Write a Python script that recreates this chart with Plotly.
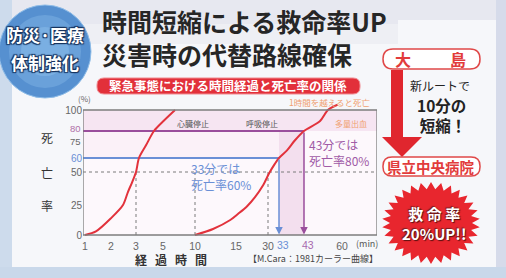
import numpy as np
import plotly.graph_objects as go

# ---------------- data ----------------
# Cara curve (1981) as drawn in the figure
CARDIAC_MIN = [1, 1.42, 2, 2.48, 2.68, 2.84, 3, 3.22, 3.74, 4.33, 5.16, 6.88]
CARDIAC_PCT = [0, 3, 14, 25, 35, 42, 50, 60, 70, 80, 90, 100]

BLEED_MIN = [10, 12.2, 14.3, 15.9, 20.2, 23.9, 27.7, 30.3, 31.9, 33, 36.2, 39.4, 43, 50.2, 53.7, 58]
BLEED_PCT = [0, 5, 12.5, 17.5, 24, 31, 40, 49, 56, 60, 66, 74, 80, 89.5, 100, 105]

X_TICKS = [1, 2, 3, 5, 10, 15, 30, 33, 43, 60]
X_TICK_TEXT = ["1", "2", "3", "5", "10", "15", "30", "33", "43", "60"]
Y_TICKS = [0, 25, 50, 60, 75, 80, 100]
Y_TICK_TEXT = ["0", "25", "50", "60", "75", "80", "100"]

REF_A = (33, 60)   # 33分では死亡率60%
REF_B = (43, 80)   # 43分では死亡率80%
DOTTED_MIN = [3, 10, 30]
DOTTED_PCT = 50

# axis scales of the drawing (non-uniform, as printed)
X_SCALE_MIN = [1, 2, 3, 5, 10, 15, 30, 33, 43, 60]
X_SCALE_U = [0, 26, 51, 78, 110, 151, 183, 194, 219, 257]
Y_SCALE_PCT = [0, 25, 50, 60, 75, 80, 100, 120]
Y_SCALE_V = [0, 30, 63, 77, 96, 104, 125, 146]


def U(m):
    return np.interp(m, X_SCALE_MIN, X_SCALE_U)


def V(p):
    return np.interp(p, Y_SCALE_PCT, Y_SCALE_V)


# ---------------- geometry helpers ----------------
W, H = 506, 278
L, R, T, B = 83, 377, 93, 238


def PX(px):
    return (px - L) / (R - L)


def PY(py):
    return (B - py) / (B - T)


def rrect(x0, y0, x1, y1, r):
    return (f"M {PX(x0+r)},{PY(y0)} L {PX(x1-r)},{PY(y0)} Q {PX(x1)},{PY(y0)} {PX(x1)},{PY(y0+r)} "
            f"L {PX(x1)},{PY(y1-r)} Q {PX(x1)},{PY(y1)} {PX(x1-r)},{PY(y1)} "
            f"L {PX(x0+r)},{PY(y1)} Q {PX(x0)},{PY(y1)} {PX(x0)},{PY(y1-r)} "
            f"L {PX(x0)},{PY(y0+r)} Q {PX(x0)},{PY(y0)} {PX(x0+r)},{PY(y0)} Z")


def poly(pts):
    return "M " + " L ".join(f"{PX(x)},{PY(y)}" for x, y in pts) + " Z"


def star(cx, cy, rxo, ryo, rxi, ryi, n):
    pts = []
    for k in range(2 * n):
        a = np.pi * k / n - np.pi / 2
        if k % 2 == 0:
            pts.append((cx + rxo * np.cos(a), cy + ryo * np.sin(a)))
        else:
            pts.append((cx + rxi * np.cos(a), cy + ryi * np.sin(a)))
    return poly(pts)


JP = "Noto Sans CJK JP"
RED = "#e2323c"
PURPLE = "#9a4e9c"
BLUE = "#6a8fd6"
GRAY = "#666666"

fig = go.Figure()

fig.add_trace(go.Scatter(x=U(CARDIAC_MIN), y=V(CARDIAC_PCT), mode="lines",
                         line=dict(color=RED, width=2, shape="spline", smoothing=0.8),
                         hoverinfo="skip", showlegend=False))
fig.add_trace(go.Scatter(x=U(BLEED_MIN), y=V(BLEED_PCT), mode="lines",
                         line=dict(color=RED, width=2, shape="spline", smoothing=0.8),
                         hoverinfo="skip", showlegend=False))

shapes = []
shapes += [
    dict(type="rect", xref="paper", yref="paper", x0=PX(0), x1=PX(W), y0=PY(0), y1=PY(H),
         fillcolor="#f6f7fa", line_width=0, layer="below"),
    dict(type="rect", xref="paper", yref="paper", x0=PX(0), x1=PX(398), y0=PY(0), y1=PY(24),
         fillcolor="#e7e8f0", line_width=0, layer="below"),
    dict(type="rect", xref="paper", yref="paper", x0=PX(0), x1=PX(398), y0=PY(24), y1=PY(44),
         fillcolor="#eeeff4", line_width=0, layer="below"),
    dict(type="rect", xref="paper", yref="paper", x0=PX(398), x1=PX(W), y0=PY(0), y1=PY(20),
         fillcolor="#e7e8f0", line_width=0, layer="below"),
    dict(type="rect", xref="paper", yref="paper", x0=PX(0), x1=PX(12), y0=PY(0), y1=PY(H),
         fillcolor="#cddbec", line_width=0, layer="below"),
    dict(type="rect", xref="paper", yref="paper", x0=PX(496), x1=PX(W), y0=PY(0), y1=PY(H),
         fillcolor="#d6dbea", line_width=0, layer="below"),
    dict(type="rect", xref="paper", yref="paper", x0=PX(0), x1=PX(W), y0=PY(267), y1=PY(H),
         fillcolor="#c9d8ea", line_width=0, layer="below"),
    dict(type="rect", xref="x", yref="y", x0=-2, x1=292, y0=0, y1=V(100),
         fillcolor="#fdf8fc", line_width=0, layer="below"),
    dict(type="rect", xref="x", yref="y", x0=-2, x1=292, y0=V(80), y1=V(100),
         fillcolor="#f6e5f2", line_width=0, layer="below"),
    dict(type="rect", xref="x", yref="y", x0=-2, x1=U(REF_B[0]), y0=V(60), y1=V(80),
         fillcolor="#fbf1f8", line_width=0, layer="below"),
    dict(type="rect", xref="x", yref="y", x0=U(REF_A[0]), x1=U(REF_B[0]), y0=0, y1=V(80),
         fillcolor="#f3dfee", line_width=0, layer="below"),
]
shapes.append(dict(type="line", xref="x", yref="y", x0=-2, x1=292, y0=V(DOTTED_PCT), y1=V(DOTTED_PCT),
                   line=dict(color="#7a7a7a", width=1, dash="dot"), layer="below"))
for m in DOTTED_MIN:
    shapes.append(dict(type="line", xref="x", yref="y", x0=U(m), x1=U(m), y0=0, y1=V(DOTTED_PCT),
                       line=dict(color="#7a7a7a", width=1, dash="dot"), layer="below"))
shapes.append(dict(type="line", xref="x", yref="y", x0=-2, x1=U(REF_B[0]), y0=V(REF_B[1]), y1=V(REF_B[1]),
                   line=dict(color=PURPLE, width=2), layer="below"))
shapes.append(dict(type="line", xref="x", yref="y", x0=-2, x1=U(REF_A[0]), y0=V(REF_A[1]), y1=V(REF_A[1]),
                   line=dict(color=BLUE, width=2), layer="below"))
shapes.append(dict(type="rect", xref="x", yref="y", x0=-2, x1=292, y0=0, y1=V(100),
                   line=dict(color="#7d7d7d", width=1.3), fillcolor="rgba(0,0,0,0)", layer="above"))

shapes += [
    dict(type="circle", xref="paper", yref="paper", x0=PX(-1), x1=PX(91), y0=PY(98), y1=PY(5),
         fillcolor="#5690d0", line=dict(color="#8fbde8", width=1), layer="above"),
    dict(type="circle", xref="paper", yref="paper", x0=PX(9), x1=PX(81), y0=PY(88), y1=PY(15),
         fillcolor="#6aa1da", line_width=0, layer="above"),
    dict(type="circle", xref="paper", yref="paper", x0=PX(21), x1=PX(69), y0=PY(76), y1=PY(27),
         fillcolor="#7aafe2", line_width=0, layer="above"),
]
shapes.append(dict(type="path", xref="paper", yref="paper", path=rrect(97, 78, 360, 94, 7),
                   fillcolor="#e2303a", line=dict(color="#f08a90", width=1), layer="above"))
shapes.append(dict(type="path", xref="paper", yref="paper", path=rrect(383, 49, 480, 69, 10),
                   fillcolor="#ffffff", line=dict(color="#e04848", width=1.5), layer="above"))
shapes.append(dict(type="path", xref="paper", yref="paper",
                   path=poly([(391, 70), (403, 70), (403, 137), (422, 137), (402, 157),
                              (382, 137), (391, 137)]),
                   fillcolor="#e0262e", line_width=0, layer="above"))
shapes.append(dict(type="path", xref="paper", yref="paper", path=rrect(383, 157, 480, 176, 9),
                   fillcolor="#ffffff", line=dict(color="#e04848", width=1.5), layer="above"))
shapes.append(dict(type="path", xref="paper", yref="paper",
                   path=star(431, 223, 49, 41, 41, 34, 30),
                   fillcolor="#e8262e", line_width=0, layer="above"))

annotations = []


def txt(px, py, s, size, color, bold=False, xanchor="center", shadow=None, family=JP, align="center"):
    f = dict(family=family, size=size, color=color)
    if bold:
        f["weight"] = "bold"
    if shadow:
        f["shadow"] = shadow
    annotations.append(dict(x=PX(px), y=PY(py), xref="paper", yref="paper", text=s,
                            showarrow=False, xanchor=xanchor, yanchor="middle", font=f,
                            align=align, borderpad=0))


annotations.append(dict(x=U(REF_B[0]), y=0.5, ax=U(REF_B[0]), ay=V(REF_B[1]), xref="x", yref="y",
                        axref="x", ayref="y", showarrow=True, arrowhead=2, arrowsize=1,
                        arrowwidth=1.5, arrowcolor=PURPLE, text=""))
annotations.append(dict(x=U(REF_A[0]), y=0.5, ax=U(REF_A[0]), ay=V(REF_A[1]), xref="x", yref="y",
                        axref="x", ayref="y", showarrow=True, arrowhead=2, arrowsize=1,
                        arrowwidth=1.5, arrowcolor=BLUE, text=""))

SH_BADGE = "1px 1px 1px #17345f, -1px -1px 1px #17345f, 1px -1px 1px #17345f, -1px 1px 1px #17345f"
txt(45, 34, "防災·医療", 17, "#ffffff", bold=True, shadow=SH_BADGE)
txt(45, 62, "体制強化", 17, "#ffffff", bold=True, shadow=SH_BADGE)

txt(101, 38, "時間短縮による救命率UP<br>災害時の代替路線確保", 25, "#262626", bold=True,
    xanchor="left", align="left")
txt(228, 86, "緊急事態における時間経過と死亡率の関係", 12.5, "#ffffff", bold=True)

txt(84, 98, "(%)", 8, "#666666")
txt(288, 102, "1時間を越えると死亡", 8.5, "#f0a070", xanchor="left")
txt(193, 123, "心臓停止", 8, "#555555")
txt(262, 123, "呼吸停止", 8, "#555555")
txt(351, 123, "多量出血", 8, "#f0a070")

txt(190, 176, "33分では<br>死亡率60%", 12, BLUE, xanchor="left", align="left")
txt(308, 152, "43分では<br>死亡率80%", 12, "#a05aa6", xanchor="left", align="left")

txt(47, 137, "死", 12, "#333333")
txt(47, 172, "亡", 12, "#333333")
txt(47, 205, "率", 12, "#333333")
for ch, xx in zip("経過時間", [141, 161, 181, 201]):
    txt(xx, 259, ch, 12, "#333333", bold=True)
txt(367, 243, "(min)", 9, "#555555")
txt(313, 258, "【M.Cara：1981カーラー曲線】", 9, "#444444")

txt(403, 59, "大", 16, "#e23b3b", bold=True)
txt(458, 59, "島", 16, "#e23b3b", bold=True)
txt(440, 86, "新ルートで", 12, "#222222")
txt(467, 115, "10分の<br>短縮！", 15.5, "#222222", bold=True, xanchor="right", align="right")
txt(431, 166, "県立中央病院", 14.5, "#e23b3b", bold=True)
SH_STAR = "1px 1px 1px #5a1010, -1px -1px 1px #7a2020"
txt(434, 223, "救 命 率<br>20%UP!!", 15, "#ffffff", bold=True, shadow=SH_STAR)

# x tick labels: the two highlighted minutes are printed slightly right of their guide lines
x_text = []
for v, t in zip(X_TICKS, X_TICK_TEXT):
    x_text.append("" if v in (REF_A[0], REF_B[0]) else t)
for (v, col) in ((REF_A[0], BLUE), (REF_B[0], "#a66aae")):
    t = X_TICK_TEXT[X_TICKS.index(v)]
    annotations.append(dict(x=U(v), y=PY(245), xref="x", yref="paper", text=t, showarrow=False,
                            xanchor="center", yanchor="middle", xshift=4, borderpad=0,
                            font=dict(family="Liberation Sans", size=10.5, color=col)))

# y tick labels: the tightly packed 75 / 80 pair is nudged apart as in the print
y_text = []
for v, t in zip(Y_TICKS, Y_TICK_TEXT):
    if v == REF_A[1]:
        y_text.append(f"<span style='color:{BLUE}'>{t}</span>")
    elif v in (75, REF_B[1]):
        y_text.append("")
    else:
        y_text.append(t)
for (v, col, sh) in ((REF_B[1], "#b070a8", 2.5), (75, GRAY, -2.5)):
    t = Y_TICK_TEXT[Y_TICKS.index(v)]
    annotations.append(dict(x=PX(81.5), y=V(v), xref="paper", yref="y", text=t, showarrow=False,
                            xanchor="right", yanchor="middle", yshift=sh, borderpad=0,
                            font=dict(family="Liberation Sans", size=9.5, color=col)))

fig.update_layout(
    width=W, height=H,
    margin=dict(l=L, r=W - R, t=T, b=H - B, pad=0),
    paper_bgcolor="#f6f7fa", plot_bgcolor="rgba(0,0,0,0)",
    shapes=shapes, annotations=annotations, showlegend=False,
    xaxis=dict(range=[-2, 292], tickvals=list(U(X_TICKS)), ticktext=x_text, showgrid=False,
               zeroline=False, showline=False, ticks="", fixedrange=True, tickangle=0,
               tickfont=dict(family="Liberation Sans", size=10.5, color=GRAY)),
    yaxis=dict(range=[-3, 142], tickvals=list(V(Y_TICKS)), ticktext=y_text, showgrid=False,
               zeroline=False, showline=False, ticks="", fixedrange=True,
               tickfont=dict(family="Liberation Sans", size=10, color=GRAY)),
)

fig.write_html("out.html", config={"displayModeBar": False},
               post_script="document.body.style.margin='0';document.body.style.overflow='hidden';")
